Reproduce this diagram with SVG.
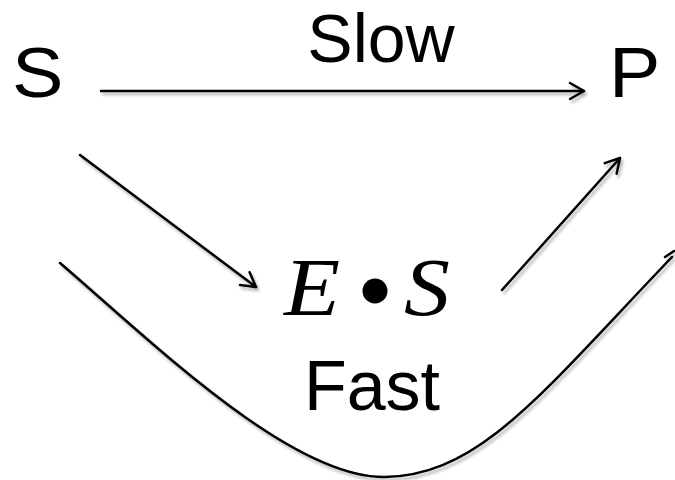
<svg xmlns="http://www.w3.org/2000/svg" width="675" height="480" viewBox="0 0 675 480">
  <defs>
    <style>
      .lbl { font-family: "Liberation Sans", Arial, sans-serif; fill: #000; }
      .math { font-family: "Liberation Serif", "Times New Roman", serif; font-style: italic; fill: #000; }
      .conn { fill: none; stroke: #000; stroke-width: 2.5; stroke-linecap: round; }
    </style>
    <marker id="arrow" markerUnits="userSpaceOnUse" markerWidth="20" markerHeight="20" refX="0" refY="0" viewBox="-16 -10 20 20" orient="auto" overflow="visible">
      <path d="M-14,-8 L0,0 L-14,8" fill="none" stroke="#000" stroke-width="2.5" stroke-linecap="round" stroke-linejoin="round"/>
    </marker>
    <filter id="shadow" x="-10%" y="-10%" width="120%" height="130%">
      <feGaussianBlur in="SourceAlpha" stdDeviation="1.5"/>
      <feOffset dx="2" dy="3" result="b"/>
      <feComponentTransfer><feFuncA type="linear" slope="0.3"/></feComponentTransfer>
      <feMerge><feMergeNode/><feMergeNode in="SourceGraphic"/></feMerge>
    </filter>
  </defs>
  <rect width="675" height="480" fill="#fff"/>

  <g id="node-S"><text class="lbl" font-size="70" transform="translate(12,97) scale(1.1,1)">S</text></g>
  <g id="node-P"><text class="lbl" font-size="70" transform="translate(609,97) scale(1.1,1)">P</text></g>
  <g id="node-ES">
    <text class="math" font-size="82" transform="translate(284,315) scale(1.12,1)">E</text>
    <circle cx="375" cy="291" r="12.5" fill="#000"/>
    <text class="math" font-size="82" transform="translate(404,315) scale(1.12,1)">S</text>
  </g>
  <g id="label-slow"><text class="lbl" x="381" y="62" font-size="68" text-anchor="middle">Slow</text></g>
  <g id="label-fast"><text class="lbl" x="372" y="410" font-size="70" text-anchor="middle">Fast</text></g>

  <g id="connectors" filter="url(#shadow)">
    <line class="conn" x1="101" y1="91" x2="584" y2="91" marker-end="url(#arrow)"/>
    <line class="conn" x1="80" y1="155" x2="256" y2="287" marker-end="url(#arrow)"/>
    <line class="conn" x1="502" y1="290" x2="620" y2="158" marker-end="url(#arrow)"/>
    <path class="conn" d="M60,263 C150,340 290,478 385,477 C480,475 540,395 672,257"/>
    <line class="conn" x1="665" y1="257" x2="674" y2="251"/>
  </g>
</svg>
